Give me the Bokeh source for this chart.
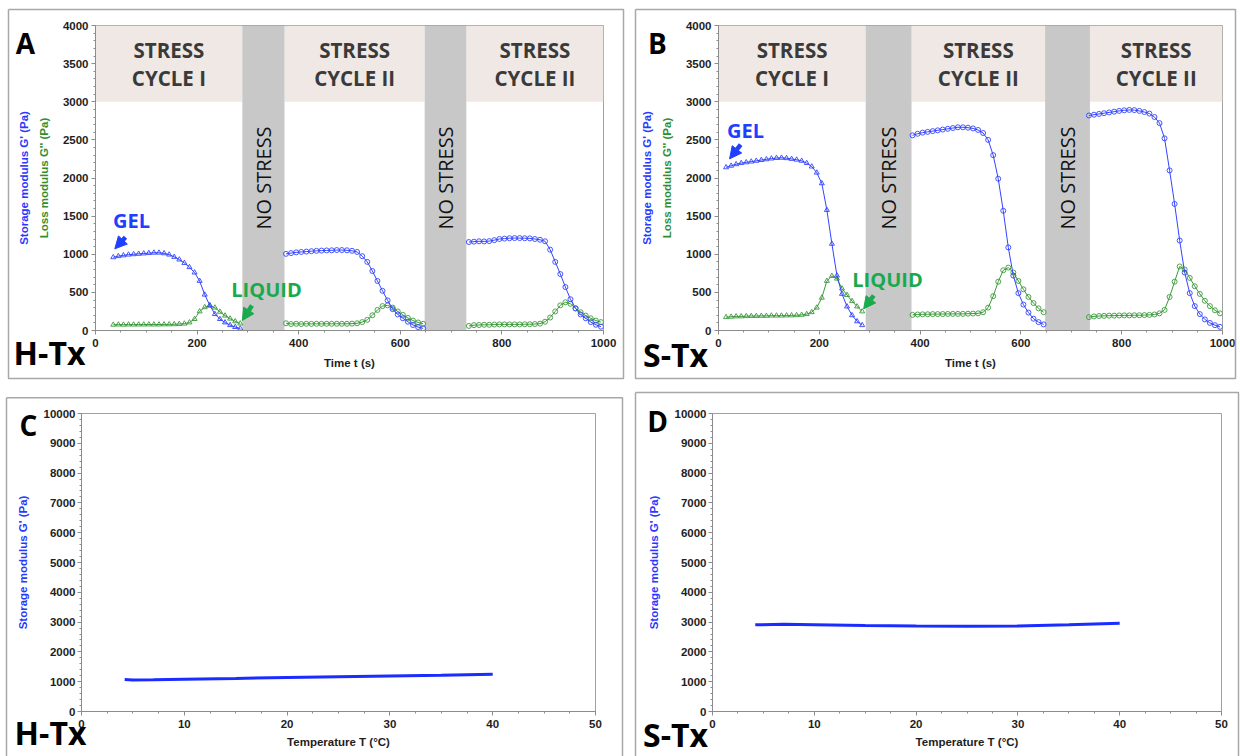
import math
from bokeh.plotting import figure
from bokeh.models import (Range1d, SingleIntervalTicker, LinearAxis, FixedTicker,
                          Arrow, NormalHead)
from bokeh.layouts import row, column
from bokeh.core.properties import value
from bokeh.embed import file_html
from bokeh.resources import INLINE

# ---------------- data ----------------
# Panel A (H-Tx), time sweeps
A_t1 = [35, 45, 55, 65, 75, 85, 95, 105, 115, 125, 135, 145, 155, 165, 175, 185, 195,
        205, 215, 225, 235, 245, 255, 265, 275, 285]
A_store1 = [960, 975, 985, 995, 1000, 1005, 1010, 1015, 1020, 1020, 1012, 995, 965, 930,
            885, 830, 760, 650, 470, 330, 215, 150, 105, 70, 45, 25]
A_loss1 = [75, 78, 76, 78, 77, 78, 78, 79, 78, 78, 80, 80, 82, 85, 90, 105, 150, 250,
           305, 325, 300, 245, 195, 155, 120, 92]
A_t2 = [375, 385, 395, 405, 415, 425, 435, 445, 455, 465, 475, 485, 495, 505, 515, 525,
        535, 545, 555, 565, 575, 585, 595, 605, 615, 625, 635, 645]
A_store2 = [1005, 1015, 1025, 1030, 1035, 1040, 1045, 1048, 1050, 1052, 1055, 1055, 1052,
            1045, 1030, 975, 900, 780, 650, 520, 395, 280, 210, 160, 115, 72, 45, 28]
A_loss2 = [95, 85, 88, 85, 88, 87, 88, 87, 88, 88, 88, 88, 88, 90, 95, 110, 140, 200,
           270, 320, 330, 300, 250, 205, 165, 130, 105, 88]
A_t3 = [735, 745, 755, 765, 775, 785, 795, 805, 815, 825, 835, 845, 855, 865, 875, 885,
        895, 905, 915, 925, 935, 945, 955, 965, 975, 985, 995]
A_store3 = [1160, 1165, 1170, 1168, 1172, 1185, 1200, 1205, 1210, 1212, 1212, 1210, 1208,
            1200, 1190, 1170, 1060, 900, 740, 570, 410, 290, 210, 160, 110, 75, 50]
A_loss3 = [60, 70, 72, 75, 75, 78, 80, 80, 80, 80, 80, 82, 82, 85, 90, 115, 170, 250,
           330, 370, 350, 290, 240, 195, 160, 130, 110]

# Panel B (S-Tx), time sweeps
B_t1 = [15, 25, 35, 45, 55, 65, 75, 85, 95, 105, 115, 125, 135, 145, 155, 165, 175, 185,
        195, 205, 215, 225, 235, 245, 255, 265, 275, 285]
B_store1 = [2140, 2160, 2180, 2195, 2205, 2215, 2225, 2235, 2245, 2255, 2262, 2265, 2260,
            2250, 2240, 2225, 2195, 2150, 2070, 1930, 1580, 1137, 720, 480, 315, 200, 120, 70]
B_loss1 = [175, 180, 185, 185, 188, 190, 190, 192, 192, 195, 195, 195, 197, 198, 200, 205,
           215, 240, 300, 430, 650, 715, 680, 550, 465, 385, 315, 250]
B_t2 = [385, 395, 405, 415, 425, 435, 445, 455, 465, 475, 485, 495, 505, 515, 525, 535,
        545, 555, 565, 575, 585, 595, 605, 615, 625, 635, 645]
B_store2 = [2560, 2580, 2595, 2605, 2615, 2625, 2635, 2645, 2655, 2665, 2665, 2660, 2650,
            2630, 2590, 2500, 2300, 1990, 1570, 1090, 720, 490, 340, 235, 155, 110, 80]
B_loss2 = [205, 210, 212, 213, 215, 215, 216, 217, 218, 218, 218, 220, 222, 225, 240, 300,
           450, 640, 790, 825, 760, 650, 540, 440, 360, 290, 240]
B_t3 = [735, 745, 755, 765, 775, 785, 795, 805, 815, 825, 835, 845, 855, 865, 875, 885,
        895, 905, 915, 925, 935, 945, 955, 965, 975, 985, 995]
B_store3 = [2820, 2830, 2840, 2850, 2860, 2870, 2880, 2888, 2893, 2890, 2880, 2865, 2845,
            2800, 2720, 2520, 2100, 1660, 1180, 760, 490, 320, 215, 145, 100, 70, 48]
B_loss3 = [175, 185, 190, 192, 195, 195, 197, 198, 198, 200, 200, 202, 205, 210, 225, 270,
           440, 640, 840, 800, 690, 580, 480, 390, 320, 265, 225]

# stress / rest windows (s)
A_stress_start = [0, 372, 730]
A_stress_end = [289, 648, 1000]
A_rest_start = [289, 648]
A_rest_end = [372, 730]
B_stress_start = [0, 383, 737]
B_stress_end = [292, 648, 1000]
B_rest_start = [292, 648]
B_rest_end = [383, 737]
stress_line1 = ["STRESS", "STRESS", "STRESS"]
stress_line2 = ["CYCLE I", "CYCLE II", "CYCLE II"]
rest_text = ["NO STRESS", "NO STRESS"]

# Panels C and D: temperature sweeps
C_temp = [4.2, 5, 7, 10, 15, 20, 25, 30, 35, 40]
C_store = [1075, 1055, 1065, 1085, 1110, 1140, 1165, 1190, 1215, 1248]
D_temp = [4.2, 7, 10, 15, 20, 25, 30, 35, 40]
D_store = [2910, 2925, 2915, 2890, 2870, 2860, 2870, 2910, 2960]

# ---------------- style ----------------
BLUE = "#3344ff"
GREEN = "#3a9a3a"
LBL_BLUE = "#2838ff"
LBL_GREEN = "#2f8f2f"
GEL_BLUE = "#1f3fff"
LIQ_GREEN = "#1aaa4e"
BEIGE = "#f0e8e4"
GRAY = "#c8c8c8"
AX = "#8c8c8c"
BOXC = "#a8a8a8"
TXT_FONT = "Open Sans"
AX_FONT = "Liberation Sans"


class Mapper:
    """page-pixel -> data converter for one panel (for decorations placed outside the frame)"""
    def __init__(self, fx0, fx1, fy0, fy1, x0, x1, y0, y1):
        self.fx0, self.fx1, self.fy0, self.fy1 = fx0, fx1, fy0, fy1
        self.x0, self.x1, self.y0, self.y1 = x0, x1, y0, y1

    def x(self, px):
        return self.x0 + (px - self.fx0) * (self.x1 - self.x0) / (self.fx1 - self.fx0)

    def y(self, py):
        return self.y0 + (self.fy1 - py) * (self.y1 - self.y0) / (self.fy1 - self.fy0)


def style_axis(ax, ticker, label, label_color, label_standoff):
    ax.ticker = ticker
    ax.axis_line_color = AX
    ax.major_tick_line_color = AX
    ax.minor_tick_line_color = AX
    ax.major_tick_out = 4
    ax.major_tick_in = 0
    ax.minor_tick_out = 2
    ax.minor_tick_in = 0
    ax.major_label_text_font = AX_FONT
    ax.major_label_text_font_style = "bold"
    ax.major_label_text_font_size = "11.5px"
    ax.major_label_text_color = "#1e1e1e"
    ax.axis_label = label
    ax.axis_label_text_font = AX_FONT
    ax.axis_label_text_font_style = "bold"
    ax.axis_label_text_font_size = "11.5px"
    ax.axis_label_text_color = label_color
    ax.axis_label_standoff = label_standoff


def page_text(p, m, px, py, text, size, color, bold=True):
    p.text(x=[m.x(px)], y=[m.y(py)], text=[text], text_font=value(TXT_FONT),
           text_font_size=size, text_font_style="bold" if bold else "normal",
           text_color=color, text_align="center", text_baseline="middle", level="overlay")


def page_box(p, m, l, t, r, b):
    xs = [m.x(l), m.x(r), m.x(r), m.x(l), m.x(l)]
    ys = [m.y(t), m.y(t), m.y(b), m.y(b), m.y(t)]
    p.line(xs, ys, line_color=BOXC, line_width=1.5, level="overlay")


def add_arrow(p, x0, y0, x1, y1, color):
    p.add_layout(Arrow(end=NormalHead(size=12, fill_color=color, line_color=color),
                       x_start=x0, y_start=y0, x_end=x1, y_end=y1,
                       line_color=color, line_width=4.5))


def make_fig(origin, size, frame, xr, yr):
    ox, oy = origin
    w, h = size
    fx0, fy0, fx1, fy1 = frame
    p = figure(width=w, height=h, x_range=Range1d(*xr), y_range=Range1d(*yr),
               output_backend="svg", toolbar_location=None,
               min_border_left=fx0 - ox, min_border_right=ox + w - fx1,
               min_border_top=fy0 - oy, min_border_bottom=oy + h - fy1)
    p.grid.visible = False
    p.outline_line_color = "#a0a0a0"
    p.background_fill_color = "white"
    m = Mapper(fx0, fx1, fy0, fy1, xr[0], xr[1], yr[0], yr[1])
    return p, m


def time_panel(origin, size, frame, box, cycles, s_start, s_end, r_start, r_end,
               letter, letter_px, sample, sample_px, gel_xy, gel_arrow, liq_xy, liq_arrow):
    p, m = make_fig(origin, size, frame, (0, 1000), (0, 4000))
    p.quad(left=s_start, right=s_end, bottom=3000, top=4000, fill_color=BEIGE, line_color=None)
    p.quad(left=r_start, right=r_end, bottom=0, top=4000, fill_color=GRAY, line_color=None)
    smid = [(a + b) / 2 for a, b in zip(s_start, s_end)]
    rmid = [(a + b) / 2 for a, b in zip(r_start, r_end)]
    p.text(x=smid, y=[3684] * len(smid), text=stress_line1, text_font=value(TXT_FONT),
           text_font_style="bold", text_font_size="20.5px", text_color="#3a3a3a",
           text_align="center", text_baseline="middle")
    p.text(x=smid, y=[3317] * len(smid), text=stress_line2, text_font=value(TXT_FONT),
           text_font_style="bold", text_font_size="20.5px", text_color="#3a3a3a",
           text_align="center", text_baseline="middle")
    p.text(x=rmid, y=[2000] * len(rmid), text=rest_text, angle=math.pi / 2,
           text_font=value(TXT_FONT), text_font_size="20px", text_color="#111111",
           text_align="center", text_baseline="middle")
    for t, gs, gl, mk in cycles:
        p.line(t, gl, line_color=GREEN, line_width=1)
        p.scatter(t, gl, marker=mk, size=5, fill_color=None, line_color=GREEN, line_width=0.9)
        p.line(t, gs, line_color=BLUE, line_width=1)
        p.scatter(t, gs, marker=mk, size=5, fill_color=None, line_color=BLUE, line_width=0.9)

    style_axis(p.yaxis[0], SingleIntervalTicker(interval=500, num_minor_ticks=5),
               "Loss modulus G'' (Pa)", LBL_GREEN, 10)
    p.yaxis[0].major_label_standoff = 3
    extra = LinearAxis(ticker=FixedTicker(ticks=[]))
    style_axis(extra, FixedTicker(ticks=[]), "Storage modulus G' (Pa)", LBL_BLUE, 5)
    extra.axis_line_color = None
    p.add_layout(extra, "left")
    style_axis(p.xaxis[0], SingleIntervalTicker(interval=200, num_minor_ticks=4),
               "Time t (s)", "#1e1e1e", 7)
    p.xaxis[0].major_label_standoff = 4

    page_text(p, m, letter_px[0], letter_px[1], letter, "28px", "black")
    page_text(p, m, sample_px[0], sample_px[1], sample, "32px", "black")
    page_box(p, m, *box)
    page_text(p, m, *gel_xy, "GEL", "20px", GEL_BLUE)
    add_arrow(p, *gel_arrow, GEL_BLUE)
    page_text(p, m, *liq_xy, "LIQUID", "20px", LIQ_GREEN)
    add_arrow(p, *liq_arrow, LIQ_GREEN)
    return p


def temp_panel(origin, size, frame, box, temp, store, letter, letter_px, sample, sample_px):
    p, m = make_fig(origin, size, frame, (0, 50), (0, 10000))
    p.line(temp, store, line_color="#1a2cff", line_width=3)
    style_axis(p.yaxis[0], SingleIntervalTicker(interval=1000, num_minor_ticks=5),
               "Storage modulus G' (Pa)", LBL_BLUE, 12)
    p.yaxis[0].major_label_standoff = 2
    style_axis(p.xaxis[0], SingleIntervalTicker(interval=10, num_minor_ticks=4),
               "Temperature T (°C)", "#1e1e1e", 5)
    p.xaxis[0].major_label_standoff = 4
    page_text(p, m, letter_px[0], letter_px[1], letter, "28px", "black")
    page_text(p, m, sample_px[0], sample_px[1], sample, "32px", "black")
    page_box(p, m, *box)
    return p


# panels: origin, size, frame (page px: left, top, right, bottom), panel box (page px)
pA = time_panel((0, 0), (628, 385), (95, 25, 603, 330), (8, 9, 623, 378),
                [(A_t1, A_store1, A_loss1, "triangle"), (A_t2, A_store2, A_loss2, "circle"),
                 (A_t3, A_store3, A_loss3, "circle")],
                A_stress_start, A_stress_end, A_rest_start, A_rest_end,
                "A", (25, 42), "H-Tx", (49, 352),
                (131, 220), (59, 1224, 38, 1071), (266, 289), (308, 328, 289, 131))
pB = time_panel((628, 0), (612, 385), (718, 25, 1222, 330), (635, 9, 1235, 378),
                [(B_t1, B_store1, B_loss1, "triangle"), (B_t2, B_store2, B_loss2, "circle"),
                 (B_t3, B_store3, B_loss3, "circle")],
                B_stress_start, B_stress_end, B_rest_start, B_rest_end,
                "B", (657, 42), "S-Tx", (675, 354),
                (745, 130), (44, 2439, 22, 2251), (887, 279), (308, 459, 288, 284))
pC = temp_panel((0, 385), (628, 371), (81, 408, 595, 711), (6, 392, 622, 760),
                C_temp, C_store, "C", (28, 420), "H-Tx", (50, 732))
pD = temp_panel((628, 385), (612, 371), (712, 413, 1221, 711), (635, 392, 1238, 760),
                D_temp, D_store, "D", (657, 420), "S-Tx", (675, 734))

layout = column(row(pA, pB, spacing=0), row(pC, pD, spacing=0), spacing=0)
open("out.html", "w").write(file_html(layout, INLINE))
